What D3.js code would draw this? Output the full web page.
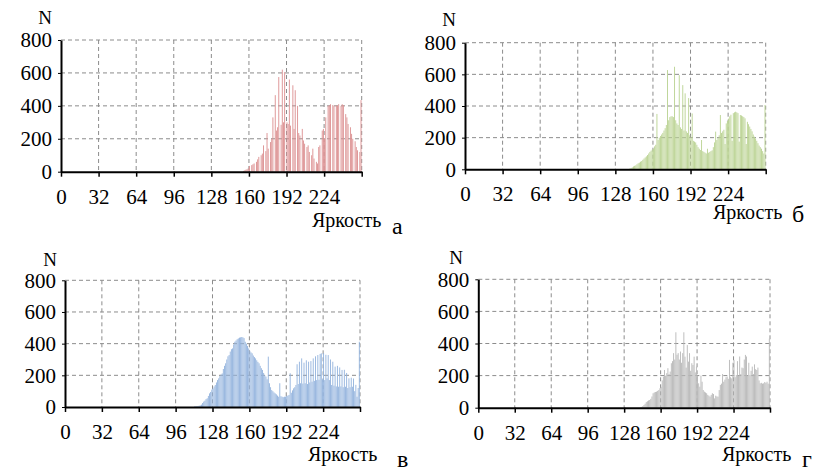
<!DOCTYPE html>
<html>
<head>
<meta charset="utf-8">
<script src="https://cdn.jsdelivr.net/npm/d3@7"></script>
<style>
  body { margin: 0; background: #fff; }
  svg { display: block; }
  svg text { font-family: "Liberation Serif", "Times New Roman", serif; }
</style>
</head>
<body>
<svg width="820" height="472"></svg>
<script>
//Brightness ticks and count ticks shared by the four histograms
const xTicks = [0, 32, 64, 96, 128, 160, 192, 224, 256];
const xTickLabels = ["0", "32", "64", "96", "128", "160", "192", "224", ""];
const yTicks = [0, 200, 400, 600, 800];

//Histogram a (red), bins 155..255
const redStart = 155;
const redValues = [5,8,12,15,20,35,0,40,45,50,
    0,60,75,90,0,100,110,160,0,125,
    235,140,0,180,200,330,0,465,250,270,
    575,0,285,620,300,605,0,300,290,560,
    280,0,525,260,495,0,400,235,220,0,
    260,190,170,0,150,160,120,0,100,140,
    80,0,60,50,150,160,0,250,260,200,
    330,0,400,405,410,0,405,400,0,405,
    400,410,0,400,410,405,0,350,330,290,
    0,270,230,200,0,185,150,130,0,120,
    435];

//Histogram б (green), bins 140..255
const greenStart = 140;
const greenValues = [5,8,12,18,22,25,32,38,42,48,
    52,60,68,75,82,90,100,110,118,125,
    130,145,155,350,185,200,210,220,230,245,
    260,280,627,310,330,335,335,330,648,310,
    290,280,595,265,255,532,245,480,240,230,
    450,215,200,353,180,175,170,155,140,130,
    122,185,115,110,105,100,130,105,110,115,
    120,140,170,238,185,200,215,343,230,240,
    250,160,290,305,320,335,345,180,355,360,
    364,360,355,175,343,340,335,330,322,160,
    300,285,270,255,240,220,206,195,180,165,
    150,140,130,115,100,406];

//Histogram в (blue), bins 112..255
const blueStart = 112;
const blueValues = [3,4,5,6,8,10,15,25,34,40,
    50,55,70,86,95,110,118,130,139,155,
    170,181,195,205,212,240,260,276,300,320,
    328,350,365,370,395,412,420,428,433,438,
    440,442,440,435,412,400,385,370,355,345,
    339,325,315,307,295,285,276,260,245,234,
    215,200,192,175,318,150,125,107,100,92,
    86,80,72,65,150,68,65,62,65,65,
    70,72,76,213,90,105,118,125,139,270,
    145,286,150,307,148,280,150,295,145,286,
    155,290,160,307,165,320,170,328,172,335,
    339,175,340,170,330,181,328,170,300,139,
    286,135,255,130,260,128,250,130,234,125,
    235,128,215,120,181,125,185,128,180,100,
    140,65,120,412];

//Histogram г (gray), bins 142..255
const grayStart = 142;
const grayValues = [3,5,10,17,25,35,40,45,48,55,
    70,90,95,98,100,105,110,121,130,170,
    194,235,200,215,246,210,225,277,290,340,
    300,470,330,340,300,350,280,340,470,318,
    250,390,287,340,230,277,266,318,220,256,
    200,152,131,200,162,110,100,95,90,80,
    75,69,80,90,85,58,75,70,69,110,
    142,150,210,162,175,190,194,180,298,190,
    183,280,298,190,204,290,200,319,210,250,
    246,300,329,319,200,280,204,230,256,210,
    270,240,235,250,170,152,155,150,152,160,
    155,162,150,430];

const svg = d3.select("svg");

//Turns a start index + values into 256 bins
const toBins = (start, values) => d3.range(256).map(i => ({
    bin: i,
    count: i >= start && i - start < values.length ? values[i - start] : 0
}));

function drawPanel(p) {
    const x = d3.scaleLinear().domain([0, 256]).range([p.left, p.right]);
    const y = d3.scaleLinear().domain([0, 800]).range([p.bottom, p.top]);
    const g = svg.append("g");
    const step = x(1) - x(0);

    //Dashed grid
    g.selectAll(".vgrid")
        .data(xTicks.slice(1))
        .enter()
        .append("line")
        .attr("x1", d => x(d)).attr("x2", d => x(d))
        .attr("y1", y(800)).attr("y2", y(0))
        .attr("stroke", "#8c8c8c")
        .attr("stroke-dasharray", "4,3");
    g.selectAll(".hgrid")
        .data(yTicks.slice(1))
        .enter()
        .append("line")
        .attr("x1", x(0)).attr("x2", x(256))
        .attr("y1", d => y(d)).attr("y2", d => y(d))
        .attr("stroke", "#8c8c8c")
        .attr("stroke-dasharray", "4,3");

    //Bars
    g.selectAll("rect")
        .data(p.bins.filter(d => d.count > 0))
        .enter()
        .append("rect")
        .attr("x", d => x(d.bin))
        .attr("y", d => y(d.count))
        .attr("width", step * 0.8)
        .attr("height", d => y(0) - y(d.count))
        .attr("fill", p.color);

    //X axis
    const xAxis = g.append("g")
        .attr("transform", `translate(0, ${y(0)})`)
        .call(d3.axisBottom(x).tickValues(xTicks).tickSize(5).tickSizeOuter(0)
            .tickFormat((d, i) => xTickLabels[i]));
    xAxis.attr("font-family", null);
    xAxis.select(".domain").attr("stroke-width", 2);
    xAxis.selectAll(".tick line").attr("stroke-width", 1.5);
    xAxis.selectAll("text")
        .style("font-size", "21px")
        .attr("fill", "#000")
        .attr("y", 17);

    //Y axis
    const yAxis = g.append("g")
        .attr("transform", `translate(${x(0)}, 0)`)
        .call(d3.axisLeft(y).tickValues(yTicks).tickSize(3).tickSizeOuter(0));
    yAxis.attr("font-family", null);
    yAxis.select(".domain").attr("stroke-width", 2);
    yAxis.selectAll("text")
        .style("font-size", "21px")
        .attr("fill", "#000")
        .attr("x", -9);

    //Axis names and panel letter
    g.append("text")
        .attr("x", p.nX).attr("y", p.nY)
        .attr("text-anchor", "middle")
        .style("font-size", "19px")
        .text("N");
    g.append("text")
        .attr("x", p.labelX).attr("y", p.labelY)
        .style("font-size", "20px")
        .text("Яркость");
    g.append("text")
        .attr("x", p.letterX).attr("y", p.letterY)
        .style("font-size", "24px")
        .text(p.letter);
}

drawPanel({bins: toBins(redStart, redValues), color: "#dd9394", letter: "а",
    left: 61, right: 361.7, top: 40, bottom: 171.7,
    nX: 45, nY: 24, labelX: 312, labelY: 227, letterX: 392, letterY: 234});
drawPanel({bins: toBins(greenStart, greenValues), color: "#bcd495", letter: "б",
    left: 465, right: 765.7, top: 42.7, bottom: 169.3,
    nX: 449, nY: 26, labelX: 713, labelY: 219, letterX: 792, letterY: 222});
drawPanel({bins: toBins(blueStart, blueValues), color: "#94b4de", letter: "в",
    left: 65, right: 360, top: 280.3, bottom: 407,
    nX: 50, nY: 266, labelX: 308, labelY: 461, letterX: 397, letterY: 467});
drawPanel({bins: toBins(grayStart, grayValues), color: "#b8b8b8", letter: "г",
    left: 478.3, right: 770, top: 279.3, bottom: 407.7,
    nX: 456, nY: 264, labelX: 722, labelY: 461, letterX: 802, letterY: 467});
</script>
</body>
</html>
